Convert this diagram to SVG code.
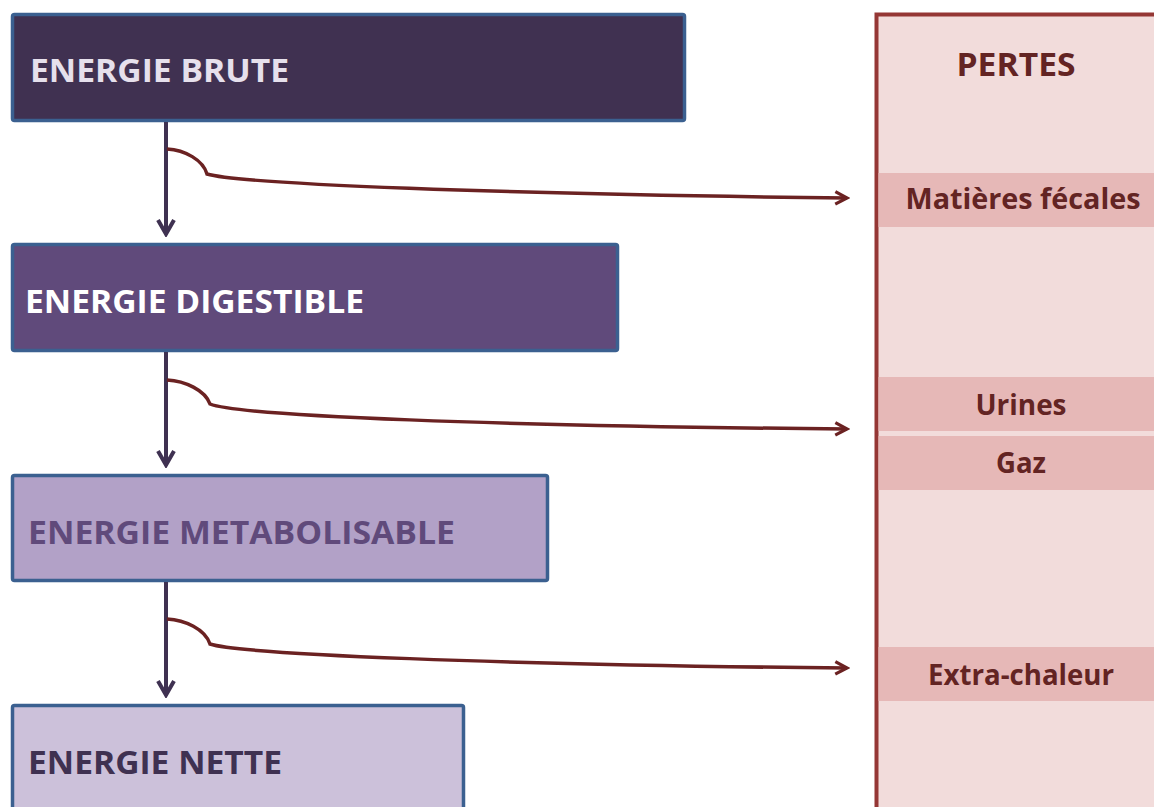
<svg xmlns="http://www.w3.org/2000/svg" width="1154" height="807" viewBox="0 0 1154 807">
<style>
.box{stroke:#3b6090;stroke-width:3.5}
.t{font-family:"Open Sans","Liberation Sans",sans-serif;font-weight:bold}
.big{font-size:32px}
.loss{font-size:28px;fill:#632423;text-anchor:middle}
.band{fill:#e6b8b7}
.down{stroke:#3f3151;stroke-width:4;fill:none}
.side{stroke:#6b2222;stroke-width:3.5;fill:none}
</style>
<defs>
<marker id="ah" viewBox="0 0 20 20" refX="17" refY="10" markerWidth="20" markerHeight="20" markerUnits="userSpaceOnUse" orient="auto">
<path d="M3,2 L17,10 L3,18" fill="none" stroke="#3f3151" stroke-width="4" stroke-linejoin="miter"/>
</marker>
<marker id="ah2" viewBox="0 0 20 20" refX="17" refY="10" markerWidth="18" markerHeight="18" markerUnits="userSpaceOnUse" orient="auto">
<path d="M4,3 L17,10 L4,17" fill="none" stroke="#6b2222" stroke-width="3.5"/>
</marker>
</defs>
<g id="pertes">
<rect x="876.5" y="14.5" width="290" height="810" fill="#f2dcdb" stroke="#953735" stroke-width="4"/>
<text class="t big" x="1016" y="76" fill="#632423" text-anchor="middle" textLength="119" lengthAdjust="spacingAndGlyphs">PERTES</text>
</g>
<g id="feces">
<rect class="band" x="878.5" y="173" width="276" height="54"/>
<text class="t loss" x="1023" y="209" textLength="235" lengthAdjust="spacingAndGlyphs">Matières fécales</text>
</g>
<g id="urines">
<rect class="band" x="878.5" y="377" width="276" height="54"/>
<text class="t loss" x="1021" y="415" textLength="91" lengthAdjust="spacingAndGlyphs">Urines</text>
</g>
<g id="gaz">
<rect class="band" x="878.5" y="436" width="276" height="54"/>
<text class="t loss" x="1021" y="473" textLength="50" lengthAdjust="spacingAndGlyphs">Gaz</text>
</g>
<g id="extra">
<rect class="band" x="878.5" y="647" width="276" height="54"/>
<text class="t loss" x="1021" y="685" textLength="186" lengthAdjust="spacingAndGlyphs">Extra-chaleur</text>
</g>
<g id="brute">
<rect class="box" x="12.5" y="14.5" width="672" height="106" rx="2" fill="#403151"/>
<text class="t big" x="30" y="82" fill="#e6e0ec" textLength="259" lengthAdjust="spacingAndGlyphs">ENERGIE BRUTE</text>
</g>
<g id="digestible">
<rect class="box" x="12.5" y="244.5" width="605" height="106" rx="2" fill="#604a7b"/>
<text class="t big" x="25" y="313" fill="#ffffff" textLength="339" lengthAdjust="spacingAndGlyphs">ENERGIE DIGESTIBLE</text>
</g>
<g id="metabolisable">
<rect class="box" x="12.5" y="475.5" width="535" height="105" rx="2" fill="#b2a1c7"/>
<text class="t big" x="28" y="544" fill="#604a7b" textLength="427" lengthAdjust="spacingAndGlyphs">ENERGIE METABOLISABLE</text>
</g>
<g id="nette">
<rect class="box" x="12.5" y="705.5" width="451" height="120" rx="2" fill="#ccc1da"/>
<text class="t big" x="28" y="774" fill="#3f3151" textLength="254" lengthAdjust="spacingAndGlyphs">ENERGIE NETTE</text>
</g>
<g id="connectors">
<path class="down" d="M166,122 V234" marker-end="url(#ah)"/>
<path class="down" d="M166,352 V465" marker-end="url(#ah)"/>
<path class="down" d="M166,582 V695" marker-end="url(#ah)"/>
<path class="side" d="M167,149 C185,150 203,160 207,174 C240,184 500,194 847,198" marker-end="url(#ah2)"/>
<path class="side" d="M167,380 C185,381 205,390 210,404 C240,416 500,426 847,429" marker-end="url(#ah2)"/>
<path class="side" d="M167,619 C185,620 205,629 210,644 C240,654 500,665 847,668" marker-end="url(#ah2)"/>
</g>
</svg>
